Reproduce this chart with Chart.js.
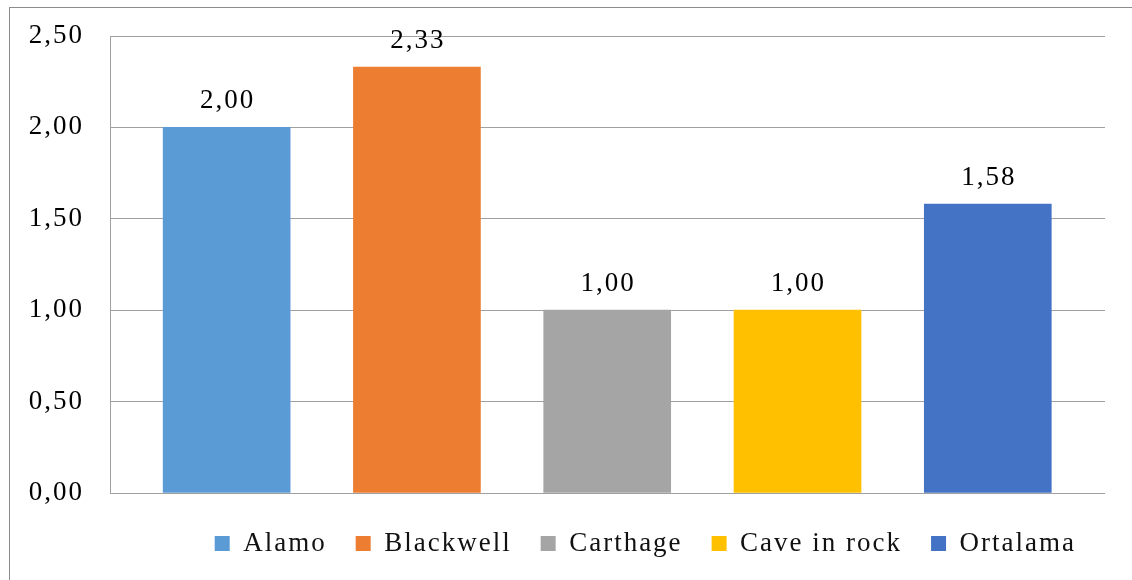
<!DOCTYPE html>
<html>
<head>
<meta charset="utf-8">
<title>Ortalama</title>
<script src="https://cdn.jsdelivr.net/npm/chart.js@4/dist/chart.umd.min.js"></script>
<style>
    body { margin: 0; background: #fff; }
    .wrap { position: relative; width: 1132px; height: 580px; overflow: hidden; }
    .frame {
        position: absolute; left: 9px; top: 7px; width: 1200px; height: 600px;
        border-top: 1px solid #8c8c8c; border-left: 1px solid #8c8c8c;
    }
    #barChart { position: absolute; left: 0; top: 0; }
</style>
</head>
<body>
<div class="wrap">
    <div class="frame"></div>
    <canvas id="barChart" width="1132" height="580"></canvas>
</div>
<script>
// Values per location, one dataset each so every bar gets a legend entry
const locations = ['Alamo', 'Blackwell', 'Carthage', 'Cave in rock', 'Ortalama'];
const scores = [2.00, 2.33, 1.00, 1.00, 1.58];
const barColors = ['#5B9BD5', '#ED7D31', '#A5A5A5', '#FFC000', '#4472C4'];
const yTicks = [0, 0.5, 1, 1.5, 2, 2.5];

const fmt = v => v.toFixed(2).replace('.', ',');
const FONT_SIZE = 27;
const SPACING = '2px';

document.addEventListener("DOMContentLoaded", function() {
    Chart.defaults.font.family = "'Liberation Serif', 'Times New Roman', serif";
    Chart.defaults.font.size = FONT_SIZE;
    Chart.defaults.color = '#000';

    // Slightly wider text, set again after every canvas reset
    const spacing = {
        id: 'spacing',
        beforeUpdate(chart) { chart.ctx.letterSpacing = SPACING; },
        beforeDraw(chart) { chart.ctx.letterSpacing = SPACING; }
    };

    // Value written above each bar
    const valueLabels = {
        id: 'valueLabels',
        afterDatasetsDraw(chart) {
            const ctx = chart.ctx;
            ctx.save();
            ctx.letterSpacing = SPACING;
            ctx.font = FONT_SIZE + "px 'Liberation Serif', serif";
            ctx.fillStyle = '#000';
            ctx.textAlign = 'center';
            ctx.textBaseline = 'alphabetic';
            chart.data.datasets.forEach((ds, i) => {
                const bar = chart.getDatasetMeta(i).data[0];
                ctx.fillText(fmt(ds.data[0].y), bar.x + 1, bar.y - 19);
            });
            ctx.restore();
        }
    };

    const datasets = locations.map((name, i) => ({
        label: name,
        data: [{ x: i, y: scores[i] }],
        backgroundColor: barColors[i],
        borderWidth: 0,
        barThickness: 127,
        grouped: false
    }));

    const ctx = document.getElementById('barChart').getContext('2d');
    const chart = new Chart(ctx, {
        type: 'bar',
        data: { datasets: datasets },
        plugins: [spacing, valueLabels],
        options: {
            responsive: false,
            animation: false,
            layout: { padding: { left: 0, right: 27, top: 36, bottom: 13 } },
            plugins: {
                legend: {
                    position: 'bottom',
                    align: 'end',
                    fullSize: false,
                    labels: {
                        boxWidth: 15,
                        boxHeight: 15,
                        padding: 29,
                        color: '#111'
                    }
                },
                tooltip: { enabled: false }
            },
            scales: {
                x: {
                    type: 'linear',
                    offset: false,
                    min: -0.613,
                    max: 4.616,
                    ticks: { display: false },
                    grid: { display: false },
                    border: { display: false },
                    afterFit(scale) { scale.height = 8; }
                },
                y: {
                    min: 0,
                    max: 2.5,
                    afterBuildTicks(scale) {
                        scale.ticks = yTicks.map(v => ({ value: v }));
                    },
                    // fixed axis width; the layout padding already leaves room for the end labels
                    afterFit(scale) {
                        scale.width = 110;
                        scale.paddingTop = 0;
                        scale.paddingBottom = 0;
                    },
                    grid: {
                        color: '#a0a0a0',
                        lineWidth: 1,
                        drawTicks: false
                    },
                    border: { display: true, color: '#a0a0a0', width: 1 },
                    ticks: {
                        padding: 26,
                        color: '#000',
                        callback: function(value) {
                            return fmt(value);
                        }
                    }
                }
            }
        }
    });
});
</script>
</body>
</html>
